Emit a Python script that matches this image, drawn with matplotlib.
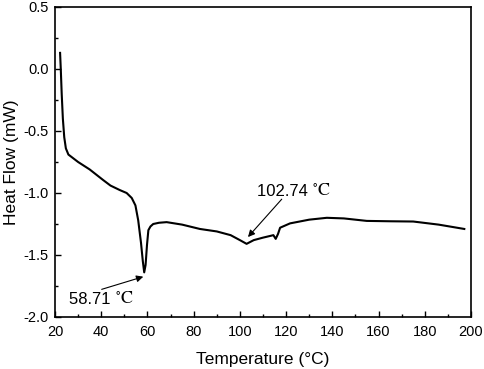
import numpy as np
import matplotlib
matplotlib.use("Agg")
import matplotlib.pyplot as plt
from matplotlib.ticker import MultipleLocator, FormatStrFormatter

plt.rcParams['font.family'] = ['Liberation Sans', 'DejaVu Sans']
plt.rcParams['mathtext.fontset'] = 'stix'

# DSC curve
temp = [22.2, 22.5, 22.9, 23.4, 24.0, 24.7, 25.8, 30.0, 35.0, 40.8, 44.0, 48.0, 51.0, 53.2,
        54.8, 56.0, 57.2, 58.0, 58.6, 59.2, 59.8, 60.4, 61.3, 62.5, 65.0, 68.3,
        75.0, 82.7, 90.0, 96.0, 100.0, 102.9, 106.0, 110.0, 114.5, 115.5, 116.5,
        117.4, 121.7, 130.0, 137.6, 145.0, 154.9, 165.0, 175.0, 186.0, 197.1]
heat = [0.13, 0.0, -0.20, -0.40, -0.55, -0.64, -0.69, -0.75, -0.81, -0.895, -0.94, -0.976, -1.00, -1.04,
        -1.10, -1.22, -1.40, -1.55, -1.64, -1.58, -1.42, -1.30, -1.27, -1.25, -1.24, -1.235,
        -1.255, -1.29, -1.31, -1.34, -1.38, -1.41, -1.38, -1.36, -1.34, -1.37, -1.33,
        -1.28, -1.245, -1.215, -1.20, -1.205, -1.225, -1.228, -1.23, -1.255, -1.29]

labels = ['58.71', '102.74']
label_xy = [(26.2, -1.856), (107.4, -0.99)]
arrow_tail = [(40.2, -1.777), (118.1, -1.05)]
arrow_head = [(58.2, -1.675), (103.5, -1.355)]

fig = plt.figure(figsize=(4.84, 3.69), dpi=100)
ax = fig.add_axes([55/484, 1 - 317/369, 416/484, 310/369])

ax.plot(temp, heat, color='black', lw=1.5)

for lab, pos, tail, head in zip(labels, label_xy, arrow_tail, arrow_head):
    t = ax.text(pos[0], pos[1], lab + ' ', fontsize=12, ha='left', va='center',
                family='Liberation Sans')
    ax.annotate('$^{\\circ}\\mathrm{C}$', xy=(1, 0), xycoords=t, fontsize=13,
                ha='left', va='bottom')
    ax.annotate('', xy=head, xytext=tail,
                arrowprops=dict(arrowstyle='-|>', color='black', lw=0.8,
                                mutation_scale=10, shrinkA=0, shrinkB=0))

ax.set_xlim(20, 200)
ax.set_ylim(-2.0, 0.5)
ax.xaxis.set_major_locator(MultipleLocator(20))
ax.xaxis.set_minor_locator(MultipleLocator(10))
ax.yaxis.set_major_locator(MultipleLocator(0.5))
ax.yaxis.set_minor_locator(MultipleLocator(0.25))
ax.yaxis.set_major_formatter(FormatStrFormatter('%.1f'))
ax.tick_params(which='both', direction='in', labelsize=10.5, width=1)
ax.tick_params(which='major', length=4)
ax.tick_params(which='minor', length=2.5)
ax.tick_params(axis='x', which='major', pad=6)
ax.tick_params(axis='y', which='major', pad=4.5)
for s in ax.spines.values():
    s.set_linewidth(1.2)

ax.set_xlabel('Temperature (°C)', fontsize=12.5, labelpad=9)
ax.set_ylabel('Heat Flow (mW)', fontsize=12.5, labelpad=3)

fig.savefig('out.png', dpi=100)
